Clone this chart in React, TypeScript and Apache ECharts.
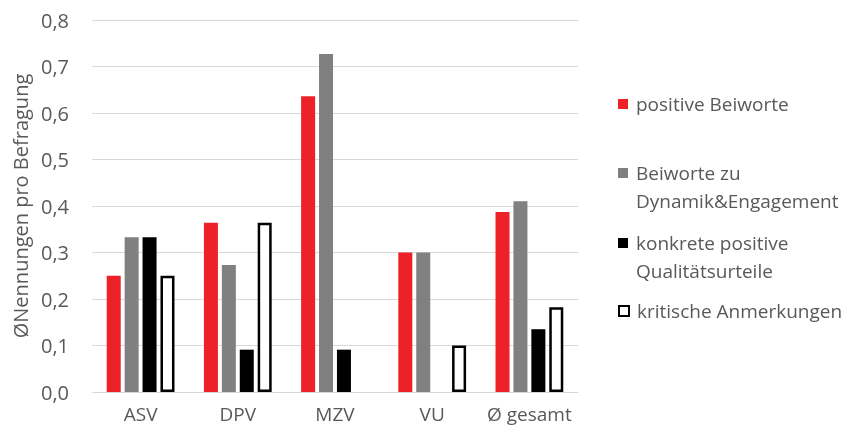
import React, { useEffect, useRef } from "react";
import * as echarts from "echarts";

const categories = ["ASV", "DPV", "MZV", "VU", "Ø gesamt"];
const seriesNames = [
  "positive Beiworte",
  "Beiworte zu\nDynamik&Engagement",
  "konkrete positive\nQualitätsurteile",
  "kritische Anmerkungen",
];
const positiveBeiworte = [0.25, 0.364, 0.636, 0.3, 0.387];
const dynamikEngagement = [0.333, 0.273, 0.727, 0.3, 0.41];
const qualitaetsurteile = [0.333, 0.091, 0.091, null, 0.135];
const kritischeAnmerkungen = [0.25, 0.364, null, 0.1, 0.182];
const yTicks = { min: 0, max: 0.8, interval: 0.1 };

const FONT = "Open Sans";
const TXT = "#595959";

export default function App() {
  const ref = useRef<HTMLDivElement>(null);
  useEffect(() => {
    if (!ref.current) return;
    document.body.style.margin = "0";
    const chart = echarts.init(ref.current, undefined, { renderer: "svg" });
    const styles = [
      { color: "#ed2228" },
      { color: "#808080" },
      { color: "#000000" },
      { color: "#ffffff", borderColor: "#000000", borderWidth: 2.5 },
    ];
    const values = [positiveBeiworte, dynamikEngagement, qualitaetsurteile, kritischeAnmerkungen];
    const LH = 28;
    const iconCenters = [104, 173, 243, 311];
    // icon with the square at the top of a taller box, so it lines up with the first text line
    const topIcon = "path://M0,0H10V10H0Z M0,38L0.001,38Z";
    chart.setOption({
      animation: false,
      textStyle: { fontFamily: FONT },
      grid: { left: 92, right: 270, top: 20, bottom: 37 },
      legend: seriesNames.map((n, i) => {
        const multi = n.includes("\n");
        return {
          data: [n],
          left: 618,
          top: multi ? iconCenters[i] - 14 : iconCenters[i] - LH / 2,
          padding: 0,
          itemWidth: 10,
          itemHeight: multi ? 38 : 10,
          selectedMode: false,
          icon: multi ? topIcon : "rect",
          textStyle: {
            fontFamily: FONT,
            fontSize: 19,
            color: TXT,
            lineHeight: LH,
            padding: [0, 0, 0, 3],
          },
        };
      }),
      xAxis: {
        type: "category",
        data: categories,
        axisLine: { lineStyle: { color: "#d9d9d9", width: 1 } },
        axisTick: { show: false },
        axisLabel: { color: TXT, fontSize: 19, margin: 12, interval: 0, fontFamily: FONT },
      },
      yAxis: {
        type: "value",
        min: yTicks.min,
        max: yTicks.max,
        interval: yTicks.interval,
        name: "ØNennungen pro Befragung",
        nameLocation: "middle",
        nameGap: 58,
        nameTextStyle: { color: TXT, fontSize: 20, fontFamily: FONT },
        axisLine: { show: false },
        axisTick: { show: false },
        splitLine: { lineStyle: { color: "#d9d9d9", width: 1 } },
        axisLabel: {
          color: TXT,
          fontSize: 20,
          margin: 23,
          fontFamily: FONT,
          formatter: (v: number) => v.toFixed(1).replace(".", ","),
        },
      },
      series: seriesNames.map((n, i) => ({
        name: n,
        type: "bar",
        data: values[i],
        barWidth: 14,
        barGap: "28%",
        itemStyle: styles[i],
      })),
    });
    return () => chart.dispose();
  }, []);
  return <div ref={ref} style={{ position: "fixed", left: 0, top: 0, width: 848, height: 429 }} />;
}
